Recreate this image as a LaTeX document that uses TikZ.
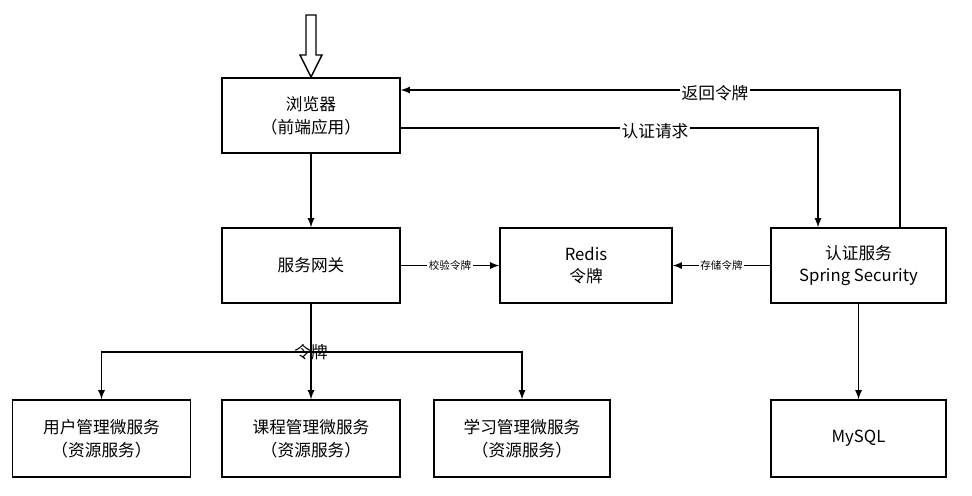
\documentclass[tikz,border=0pt]{standalone}
\usepackage{fontspec}
\setmainfont{Noto Sans CJK SC}
\usetikzlibrary{positioning}
\tikzset{
  box/.style={draw,thick,minimum width=3.56cm,minimum height=1.5cm,align=center,font=\fontsize{9.5}{13}\selectfont},
  lab/.style={fill=white,inner sep=1pt,font=\fontsize{9.5}{11}\selectfont},
  slab/.style={fill=white,inner sep=1pt,font=\fontsize{6}{7}\selectfont},
  arr/.style={->,>=latex,thick}
}
\begin{document}
\begin{tikzpicture}[x=0.02cm,y=-0.02cm]
\useasboundingbox (0,0) rectangle (972,495);
% boxes
\node[box] (browser) at (311,115.5) {浏览器\\（前端应用）};
\node[box] (gateway) at (311,265.5) {服务网关};
\node[box,minimum width=3.44cm] (redis) at (586,265.5) {Redis\\令牌};
\node[box,minimum width=3.5cm] (auth) at (858.5,265.5) {认证服务\\Spring Security};
\node[box,minimum height=1.54cm] (user) at (101.5,438.5) {用户管理微服务\\（资源服务）};
\node[box,minimum height=1.54cm] (course) at (311,438.5) {课程管理微服务\\（资源服务）};
\node[box,minimum height=1.54cm,minimum width=3.52cm] (learn) at (522,438.5) {学习管理微服务\\（资源服务）};
\node[box,minimum height=1.54cm,minimum width=3.5cm] (mysql) at (858.5,438.5) {MySQL};
% entry arrow
\draw[thick,fill=white] (306,15) -- (316,15) -- (316,55) -- (322,55) -- (311,77)
  -- (300,55) -- (306,55) -- cycle;
% connectors
\draw[arr] (browser) -- (gateway);
\coordinate (req) at (818,128);
\coordinate (ret) at (900,90);
\draw[arr] (browser.east |- req) -- (req) -- (req |- auth.north);
\node[lab] at (655,131) {认证请求};
\draw[arr] (ret |- auth.north) -- (ret) -- (browser.east |- ret);
\node[lab] at (715,93) {返回令牌};
\draw[arr] (gateway) -- node[slab] {校验令牌} (redis);
\draw[arr] (auth) -- node[slab] {存储令牌} (redis);
\coordinate (fork) at (311,352);
\draw[arr] (gateway) -- (course);
\draw[arr] (fork) -- (user.north |- fork) -- (user.north);
\draw[arr] (fork) -- (learn.north |- fork) -- (learn.north);
\node[lab,fill=none] at (fork) {令牌};
\draw[arr] (auth) -- (mysql);
\end{tikzpicture}
\end{document}
